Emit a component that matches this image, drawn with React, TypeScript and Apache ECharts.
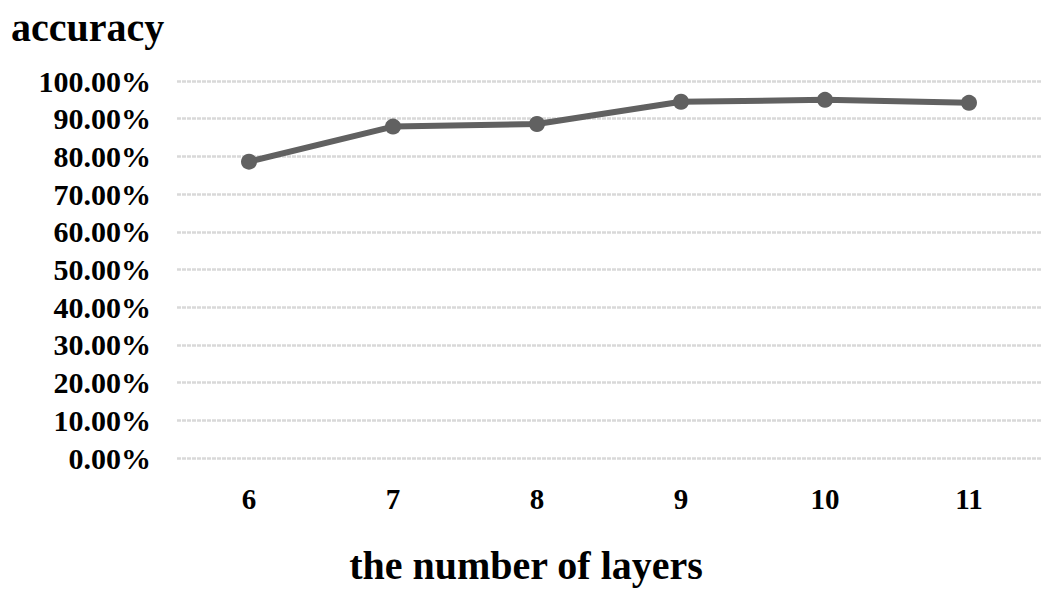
import React, { useEffect, useRef } from "react";
import * as echarts from "echarts";

const categories = ["6", "7", "8", "9", "10", "11"];
const accuracy = [0.786, 0.879, 0.886, 0.945, 0.95, 0.942];
const yTitle = "accuracy";
const xTitle = "the number of layers";

const FONT = "'Liberation Serif', 'Times New Roman', serif";

export default function App() {
  const ref = useRef<HTMLDivElement>(null);
  useEffect(() => {
    const chart = echarts.init(ref.current!, null, { renderer: "svg" });
    chart.setOption({
      animation: false,
      backgroundColor: "#ffffff",
      grid: { left: 177, right: 14, top: 81, bottom: 139, containLabel: false },
      xAxis: {
        type: "category",
        data: categories,
        boundaryGap: true,
        axisLine: { show: false },
        axisTick: { show: false },
        axisLabel: {
          margin: 26,
          fontFamily: FONT,
          fontWeight: "bold",
          fontSize: 29,
          color: "#000",
        },
      },
      yAxis: {
        type: "value",
        min: 0,
        max: 1,
        interval: 0.1,
        axisLine: { show: false },
        axisTick: { show: false },
        splitLine: { lineStyle: { color: "#d9d9d9", width: 2.5, type: [4, 1] } },
        axisLabel: {
          margin: 26,
          fontFamily: FONT,
          fontWeight: "bold",
          fontSize: 30,
          color: "#000",
          formatter: (v: number) => (v * 100).toFixed(2) + "%",
        },
      },
      series: [
        {
          type: "line",
          data: accuracy,
          symbol: "circle",
          symbolSize: 16,
          lineStyle: { color: "#616161", width: 6 },
          itemStyle: { color: "#616161" },
        },
      ],
      graphic: [
        {
          type: "text",
          left: 11,
          top: 7,
          style: {
            text: yTitle,
            font: `bold 40px ${FONT}`,
            fill: "#000",
          },
        },
        {
          type: "text",
          x: 526,
          y: 565,
          style: {
            text: xTitle,
            font: `bold 40px ${FONT}`,
            fill: "#000",
            textAlign: "center",
            textVerticalAlign: "middle",
          },
        },
      ],
    });
    return () => chart.dispose();
  }, []);
  return <div ref={ref} style={{ width: 1055, height: 597, position: "absolute", left: 0, top: 0 }} />;
}
